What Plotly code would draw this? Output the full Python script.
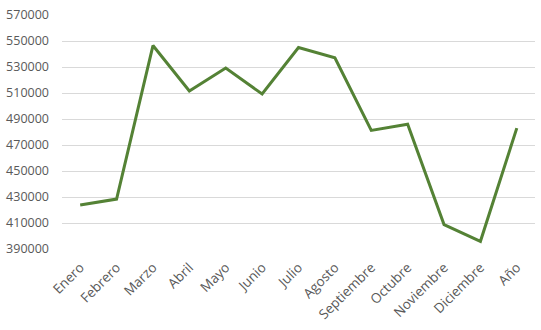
import plotly.graph_objects as go

categorias = ["Enero", "Febrero", "Marzo", "Abril", "Mayo", "Junio", "Julio",
              "Agosto", "Septiembre", "Octubre", "Noviembre", "Diciembre", "Año"]
valores = [423900, 428400, 546500, 511500, 529200, 509200, 545000,
           537100, 481200, 486000, 408800, 395900, 483000]
y_ticks = [390000, 410000, 430000, 450000, 470000, 490000, 510000, 530000, 550000, 570000]

fig = go.Figure()
fig.add_trace(go.Scatter(
    x=categorias, y=valores, mode="lines",
    line=dict(color="#548235", width=3),
    hoverinfo="x+y",
))

fig.update_layout(
    width=541, height=330,
    margin=dict(l=62, r=6, t=12, b=81),
    paper_bgcolor="white", plot_bgcolor="white",
    showlegend=False,
    font=dict(family="Open Sans", size=12, color="#595959"),
    xaxis=dict(
        type="category", range=[-0.5, 12.5],
        tickangle=-45, showgrid=False, showline=False, zeroline=False,
        ticks="", ticklabelstandoff=7,
        tickfont=dict(family="Open Sans", size=13.5, color="#595959"),
    ),
    yaxis=dict(
        range=[390000, 570000], tickvals=y_ticks,
        ticktext=[str(v) for v in y_ticks],
        showgrid=True, gridcolor="#d9d9d9", gridwidth=1,
        zeroline=False, showline=False, ticks="", ticklabelstandoff=12,
        tickfont=dict(family="Open Sans", size=12.5, color="#595959"),
    ),
)

fig.write_html("out.html")
